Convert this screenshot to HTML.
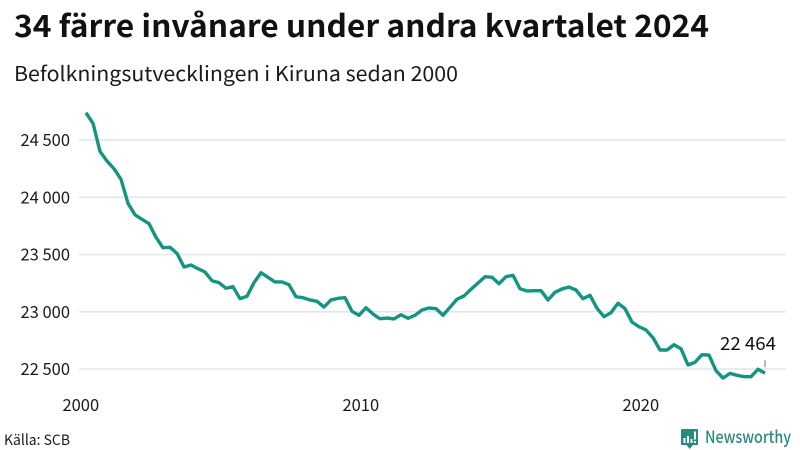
<!DOCTYPE html>
<html lang="sv">
<head>
<meta charset="utf-8">
<title>34 färre invånare under andra kvartalet 2024</title>
<style>
html,body{margin:0;padding:0;background:#fff;width:800px;height:450px;overflow:hidden}
svg{display:block}
text{font-family:"Noto Sans CJK JP","Liberation Sans",sans-serif;fill:#1a1a1a}
</style>
</head>
<body>
<svg id="chart" width="800" height="450" viewBox="0 0 800 450" xmlns="http://www.w3.org/2000/svg">
  <rect width="800" height="450" fill="#fff"/>
  <text x="14" y="37" font-size="30.5" font-weight="700" textLength="695" lengthAdjust="spacingAndGlyphs" style="fill:#111">34 färre invånare under andra kvartalet 2024</text>
  <text x="14" y="81" font-size="20.5" textLength="444" lengthAdjust="spacingAndGlyphs">Befolkningsutvecklingen i Kiruna sedan 2000</text>
  <g id="grid"></g>
  <g id="y-axis"></g>
  <g id="x-axis"></g>
  <path id="series" fill="none" stroke="#14957f" stroke-width="3.4" stroke-linejoin="round" stroke-linecap="butt"></path>
  <line id="leader" stroke="#777" stroke-width="1"></line>
  <text id="last-label" font-size="18" text-anchor="end" textLength="56" lengthAdjust="spacingAndGlyphs" style="fill:#111"></text>
  <text x="4" y="445" font-size="14.5" textLength="66" lengthAdjust="spacingAndGlyphs">Källa: SCB</text>
  <g>
    <path d="M682 429H697.5Q698 429 698 430V444.5Q698 445 697.5 445H693L689.8 449L686.5 445H682Q681 445 681 444.5V430Q681 429 682 429Z" fill="#2b8a7f"/>
    <rect x="683.5" y="438" width="2" height="5" fill="#fff"/>
    <rect x="687" y="436" width="2" height="7" fill="#fff"/>
    <rect x="690.5" y="439" width="2" height="4" fill="#fff"/>
    <rect x="694" y="431.5" width="2" height="8" fill="#fff"/>
    <rect x="694" y="441" width="2" height="2" fill="#fff"/>
    <text x="705" y="443" font-size="17" font-weight="500" textLength="86" lengthAdjust="spacingAndGlyphs" style="fill:#2b8a7f">Newsworthy</text>
  </g>
</svg>
<script>
const firstYear = 2000;
const periodsPerYear = 4;
const population = [
  24738,24646,24401,24316,24249,24157,23947,23847,23807,23769,
  23650,23559,23563,23510,23391,23408,23376,23347,23271,23254,
  23205,23219,23114,23135,23254,23341,23301,23260,23260,23236,
  23131,23123,23103,23091,23041,23103,23117,23123,23004,22969,
  23035,22980,22939,22945,22937,22974,22943,22969,23015,23033,
  23027,22969,23039,23109,23138,23196,23251,23306,23301,23245,
  23306,23318,23201,23181,23184,23184,23103,23170,23199,23216,
  23190,23114,23144,23030,22957,22992,23074,23027,22910,22869,
  22841,22773,22666,22666,22712,22677,22535,22559,22625,22622,
  22485,22421,22462,22445,22433,22433,22498,22464
];
const yTicks = [22500,23000,23500,24000,24500];
const xTicks = [2000,2010,2020];

const SVG_NS = 'http://www.w3.org/2000/svg';
function yScale(v){ return 369 - (v - 22500) * 0.1145; }
function xScale(t){ return 86 + (t - firstYear) * 28; }
function formatNumber(v){ return String(v).replace(/\B(?=(\d{3})+$)/g, ' '); }

const grid = document.getElementById('grid');
const yAxis = document.getElementById('y-axis');
const xAxis = document.getElementById('x-axis');

yTicks.forEach(function(v){
  const g = document.createElementNS(SVG_NS, 'line');
  
  
  g.setAttribute('x1', 79);
  g.setAttribute('x2', 786);
  g.setAttribute('y1', yScale(v));
  g.setAttribute('y2', yScale(v));
  g.setAttribute('stroke', '#e4e4ec');
  g.setAttribute('stroke-width', '1.5');
  grid.appendChild(g);

  const t = document.createElementNS(SVG_NS, 'text');
  
  
  t.setAttribute('x', 70);
  t.setAttribute('y', yScale(v) + 6);
  t.setAttribute('text-anchor', 'end');
  t.setAttribute('font-size', '16.5');
  t.textContent = formatNumber(v);
  yAxis.appendChild(t);
});

xTicks.forEach(function(y){
  const t = document.createElementNS(SVG_NS, 'text');
  
  
  t.setAttribute('x', xScale(y) - 5.2);
  t.setAttribute('y', 411);
  t.setAttribute('text-anchor', 'middle');
  t.setAttribute('font-size', '16.5');
  t.textContent = String(y);
  xAxis.appendChild(t);
});

const points = population.map(function(v, i){
  return xScale(firstYear + i / periodsPerYear).toFixed(2) + ' ' + yScale(v).toFixed(2);
});
document.getElementById('series').setAttribute('d', 'M' + points.join('L'));

const lastIndex = population.length - 1;
const lastValue = population[lastIndex];
const lastX = xScale(firstYear + lastIndex / periodsPerYear);
const lastY = yScale(lastValue);
const leader = document.getElementById('leader');
leader.setAttribute('x1', lastX);
leader.setAttribute('x2', lastX);
leader.setAttribute('y1', lastY - 13);
leader.setAttribute('y2', lastY - 6);
const lastLabel = document.getElementById('last-label');
lastLabel.setAttribute('x', lastX + 11);
lastLabel.setAttribute('y', lastY - 23);
lastLabel.textContent = formatNumber(lastValue);
</script>
</body>
</html>
